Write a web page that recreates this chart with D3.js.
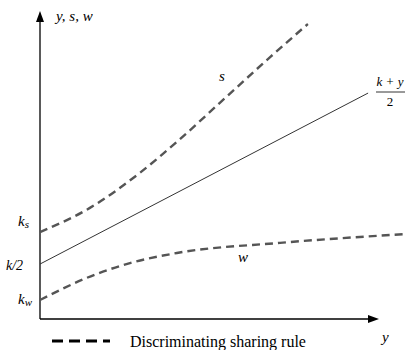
<!DOCTYPE html>
<html>
<head>
<meta charset="utf-8">
<script src="https://cdn.jsdelivr.net/npm/d3@7"></script>
<style>
  body { margin: 0; background: #fff; }
  svg text { font-family: "Liberation Serif", "Times New Roman", Times, serif; }
</style>
</head>
<body>
<script>
const svgWidth = 407
const svgHeight = 350

// curves in chart units (x: 0..10, y: 0..10)
const sX = [0, 1.36, 2.72, 3.73, 4.90, 6.27, 7.30]
const sY = [2.83, 3.62, 4.76, 5.77, 7.04, 8.53, 9.61]
const midX = [0, 8.94]
const midY = [1.79, 7.36]
const wX = [0, 1.55, 2.45, 3.73, 6.54, 10]
const wY = [0.62, 1.47, 1.82, 2.15, 2.48, 2.77]

const origin = { x: 40, y: 319 }

const x = d3.scaleLinear().domain([0, 10]).range([origin.x, svgWidth])
const y = d3.scaleLinear().domain([0, 10]).range([origin.y, 12])

const svg = d3.select("body").append("svg")
    .attr("width", svgWidth)
    .attr("height", svgHeight)

const line = d3.line()
    .x(d => x(d[0]))
    .y(d => y(d[1]))
    .curve(d3.curveMonotoneX)

const zip = (a, b) => a.map((v, i) => [v, b[i]])

// axes
svg.append("line")
    .attr("x1", origin.x).attr("y1", origin.y)
    .attr("x2", origin.x).attr("y2", 20)
    .attr("stroke", "#000").attr("stroke-width", 1.3)
svg.append("path")
    .attr("d", `M${origin.x - 4},22 L${origin.x},11 L${origin.x + 4},22 Z`)
    .attr("fill", "#000")

svg.append("line")
    .attr("x1", origin.x).attr("y1", origin.y)
    .attr("x2", 371).attr("y2", origin.y)
    .attr("stroke", "#000").attr("stroke-width", 1.3)
svg.append("path")
    .attr("d", `M368,${origin.y - 4} L379,${origin.y} L368,${origin.y + 4} Z`)
    .attr("fill", "#000")

// curves
svg.append("path")
    .attr("d", line(zip(midX, midY)))
    .attr("fill", "none")
    .attr("stroke", "#333")
    .attr("stroke-width", 1)

svg.append("path")
    .attr("d", line(zip(sX, sY)))
    .attr("fill", "none")
    .attr("stroke", "#555")
    .attr("stroke-width", 2.4)
    .attr("stroke-dasharray", "8,5")

svg.append("path")
    .attr("d", line(zip(wX, wY)))
    .attr("fill", "none")
    .attr("stroke", "#555")
    .attr("stroke-width", 2.4)
    .attr("stroke-dasharray", "8,5")

// labels
const it = (tx, ty, str, size) => svg.append("text")
    .attr("x", tx).attr("y", ty)
    .attr("font-family", "Liberation Serif")
    .attr("font-style", "italic")
    .attr("font-size", size || 15)
    .text(str)

it(56, 21, "y, s, w")
it(219, 81, "s")
it(238, 262, "w")
it(382, 342, "y")

const ks = it(18, 226, "k")
ks.append("tspan").attr("font-size", 11).attr("dy", 2).text("s")
const kw = it(18, 304, "k")
kw.append("tspan").attr("font-size", 11).attr("dy", 2).text("w")
it(6, 270, "k/2", 14)

// fraction (k + y)/2
it(390, 86, "k + y", 13).attr("text-anchor", "middle")
svg.append("line")
    .attr("x1", 376).attr("x2", 405)
    .attr("y1", 92).attr("y2", 92)
    .attr("stroke", "#000").attr("stroke-width", 0.8)
svg.append("text")
    .attr("x", 390).attr("y", 106)
    .attr("text-anchor", "middle")
    .attr("font-size", 13)
    .text("2")

// legend
svg.append("line")
    .attr("x1", 52).attr("x2", 110)
    .attr("y1", 341).attr("y2", 341)
    .attr("stroke", "#000")
    .attr("stroke-width", 3)
    .attr("stroke-dasharray", "11,6")
svg.append("text")
    .attr("x", 130).attr("y", 347)
    .attr("font-size", 16)
    .text("Discriminating sharing rule")
</script>
</body>
</html>
